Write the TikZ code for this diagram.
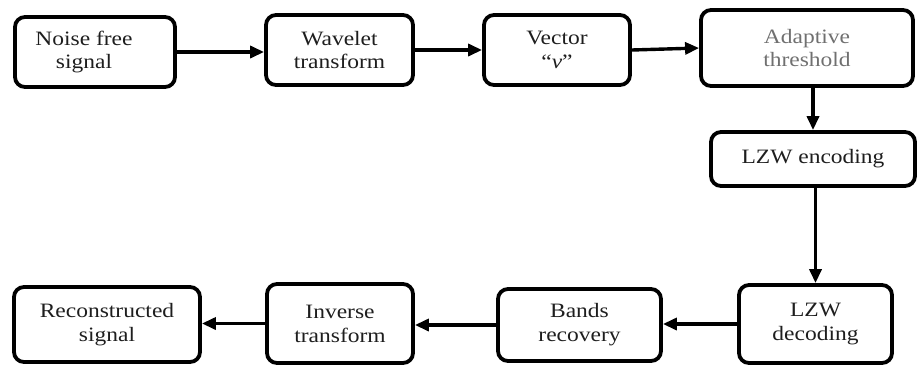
\documentclass[tikz,border=0pt]{standalone}
\usepackage{fontspec}
\setmainfont{Liberation Serif}
\newfontfamily\widefont{Liberation Serif}[FakeStretch=1.15]
\usetikzlibrary{arrows.meta}
\definecolor{txt}{HTML}{1E1E1E}
\definecolor{greytxt}{HTML}{707070}
\begin{document}
\begin{tikzpicture}[x=1bp,y=-1bp,
  stagebox/.style={draw=black, line width=3.8bp, rounded corners=10bp, align=center,
    inner sep=0pt, text=txt, font=\widefont\fontsize{20.5}{24}\selectfont},
  flow/.style={line width=3.4bp, -{Triangle[length=14bp,width=12bp]}}]
\useasboundingbox (0,0) rectangle (918,367);
% boxes: centre (x,y), size = outer - line width
\node[stagebox, minimum width=160bp, minimum height=70bp] (n1) at (95,52) {Noise free\hspace*{22bp}\\signal\hspace*{22bp}};
\node[stagebox, minimum width=147bp, minimum height=70bp] (n2) at (339.5,50) {Wavelet\\transform};
\node[stagebox, minimum width=146bp, minimum height=70bp] (n3) at (557,50) {Vector\\\char"201C\textit{v}\char"201D};
\node[stagebox, minimum width=212bp, minimum height=76bp, text=greytxt] (n4) at (807,48) {Adaptive\\threshold};
\node[stagebox, minimum width=204bp, minimum height=54bp] (n5) at (813,159) {\raisebox{-6bp}{LZW encoding}};
\node[stagebox, minimum width=153bp, minimum height=78bp] (n6) at (815.5,324) {LZW\\decoding};
\node[stagebox, minimum width=163bp, minimum height=72bp] (n7) at (579.5,325) {Bands\\recovery};
\node[stagebox, minimum width=146bp, minimum height=79bp] (n8) at (340,323.5) {Inverse\\transform};
\node[stagebox, minimum width=186bp, minimum height=75bp] (n9) at (107,324.5) {Reconstructed\\signal};
% connectors
\draw[flow] (n1.east) -- (n1.east -| n2.west);
\draw[flow] (n2.east |- n3.west) -- (n3.west);
\draw[flow] (n3.east) -- (n4.west);
\draw[flow] (n5.north |- n4.south) -- (n5.north);
\draw[flow] (n6.north |- n5.south) -- (n6.north);
\draw[flow] (n6.west) -- (n6.west -| n7.east);
\draw[flow] (n7.west) -- (n7.west -| n8.east);
\draw[flow] (n8.west) -- (n8.west -| n9.east);
\end{tikzpicture}
\end{document}
